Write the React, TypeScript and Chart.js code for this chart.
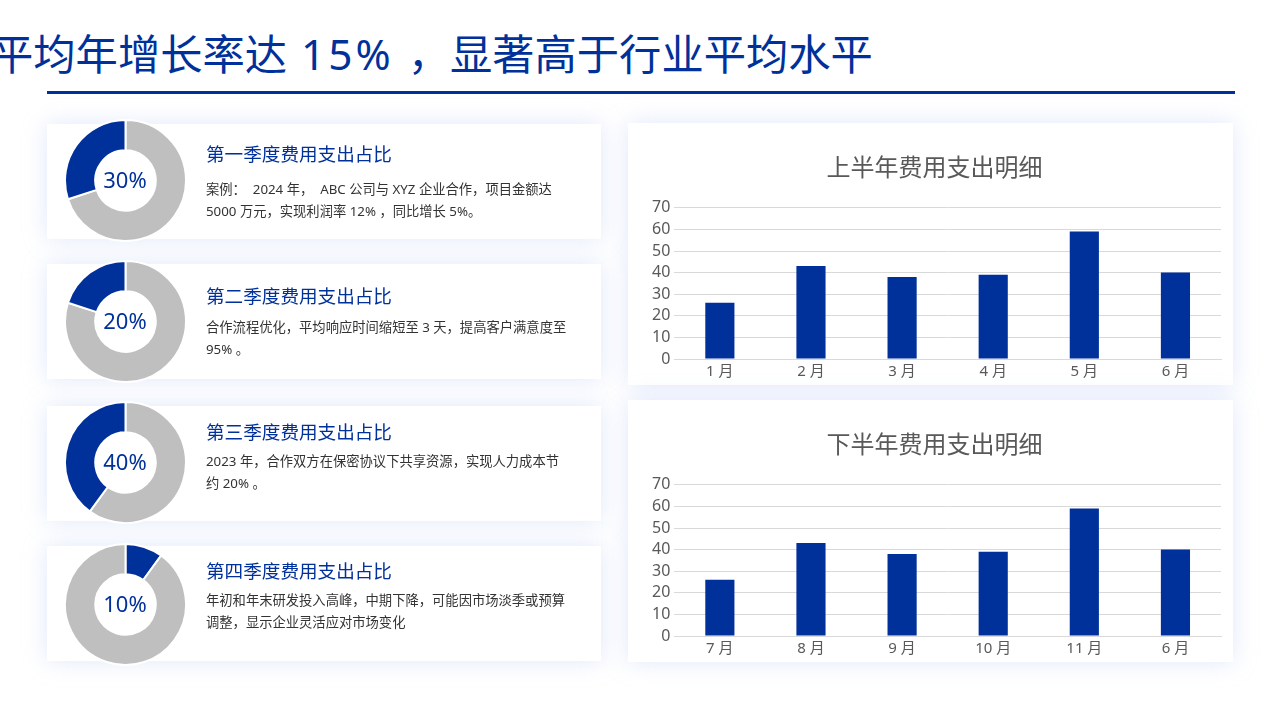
import React, { useEffect, useRef } from 'react';
import { Chart, registerables } from 'chart.js';

Chart.register(...registerables);

const FONT = '"Noto Sans", "Noto Sans CJK SC", sans-serif';
const BLUE = '#00319b';
const GREY = '#bfbfbf';
const AXIS_TEXT = '#595959';

// quarter share cards
const quarterTitles = ['第一季度费用支出占比', '第二季度费用支出占比', '第三季度费用支出占比', '第四季度费用支出占比'];
const quarterShares = [30, 20, 40, 10];
const quarterBlueFirst = [false, false, false, true];
const quarterLines = [
  ['案例：  2024 年，  ABC 公司与 XYZ 企业合作，项目金额达', '5000 万元，实现利润率 12% ，同比增长 5%。'],
  ['合作流程优化，平均响应时间缩短至 3 天，提高客户满意度至', '95% 。'],
  ['2023 年，合作双方在保密协议下共享资源，实现人力成本节', '约 20% 。'],
  ['年初和年末研发投入高峰，中期下降，可能因市场淡季或预算', '调整，显示企业灵活应对市场变化'],
];

// bar charts
const firstHalfTitle = '上半年费用支出明细';
const firstHalfMonths = ['1 月', '2 月', '3 月', '4 月', '5 月', '6 月'];
const firstHalfValues = [26, 43, 38, 39, 59, 40];
const secondHalfTitle = '下半年费用支出明细';
const secondHalfMonths = ['7 月', '8 月', '9 月', '10 月', '11 月', '6 月'];
const secondHalfValues = [26, 43, 38, 39, 59, 40];
const yTicks = [0, 10, 20, 30, 40, 50, 60, 70];

// layout (page px)
const cardTops = [124, 264, 406, 546];
const donutCenters = [180, 321, 462, 604];
const headingCenters = [155, 297, 433, 572];
const bodyCenters = [189, 327, 461, 600];

const shadow = '0 0 22px rgba(170, 188, 240, 0.35)';

const Donut: React.FC<{ share: number; blueFirst: boolean; cy: number }> = ({ share, blueFirst, cy }) => {
  const ref = useRef<HTMLCanvasElement>(null);
  useEffect(() => {
    if (!ref.current) return;
    const data = blueFirst ? [share, 100 - share] : [100 - share, share];
    const colors = blueFirst ? [BLUE, GREY] : [GREY, BLUE];
    const chart = new Chart(ref.current, {
      type: 'doughnut',
      data: { labels: ['a', 'b'], datasets: [{ data, backgroundColor: colors, borderColor: '#ffffff', borderWidth: 2 }] },
      options: {
        animation: false,
        responsive: true,
        maintainAspectRatio: false,
        cutout: '50%',
        plugins: { legend: { display: false }, tooltip: { enabled: false } },
      },
    });
    return () => chart.destroy();
  }, [share, blueFirst]);
  const size = 123;
  return (
    <>
      <div style={{ position: 'absolute', left: 125 - size / 2, top: cy - size / 2, width: size, height: size }}>
        <canvas ref={ref}></canvas>
      </div>
      <div style={{ position: 'absolute', left: 85, top: cy - 16, width: 80, height: 30, lineHeight: '30px', textAlign: 'center', fontSize: 22, color: BLUE, fontFamily: FONT }}>
        {share}%
      </div>
    </>
  );
};

const BarCard: React.FC<{ title: string; labels: string[]; values: number[]; top: number }> = ({ title, labels, values, top }) => {
  const ref = useRef<HTMLCanvasElement>(null);
  useEffect(() => {
    if (!ref.current) return;
    const chart = new Chart(ref.current, {
      type: 'bar',
      data: {
        labels,
        datasets: [{ data: values, backgroundColor: BLUE, barPercentage: 0.32, categoryPercentage: 1 }],
      },
      options: {
        animation: false,
        responsive: true,
        maintainAspectRatio: false,
        layout: { padding: { left: 20, right: 12, top: 0, bottom: 0 } },
        plugins: {
          legend: { display: false },
          tooltip: { enabled: false },
          title: {
            display: true,
            text: title,
            color: AXIS_TEXT,
            font: { family: FONT, size: 24, weight: 'normal' },
            padding: { top: 32, bottom: 24 },
          },
        },
        scales: {
          x: {
            grid: { display: false, drawTicks: false },
            border: { color: '#d9d9d9' },
            ticks: { color: AXIS_TEXT, font: { family: FONT, size: 15 }, padding: 4 },
          },
          y: {
            min: yTicks[0],
            max: yTicks[yTicks.length - 1],
            afterBuildTicks: (axis: any) => {
              axis.ticks = yTicks.map((v) => ({ value: v }));
            },
            grid: { color: '#d9d9d9', drawTicks: false },
            border: { display: false },
            ticks: { color: AXIS_TEXT, font: { family: FONT, size: 16 }, padding: 4, autoSkip: false },
          },
        },
      },
    });
    return () => chart.destroy();
  }, [title, labels, values]);
  return (
    <div style={{ position: 'absolute', left: 628, top, width: 605, height: 262, background: '#fff', boxShadow: shadow }}>
      <canvas ref={ref}></canvas>
    </div>
  );
};

export default function App() {
  useEffect(() => {
    document.body.style.margin = '0';
  }, []);
  return (
    <div style={{ position: 'relative', width: 1280, height: 719, overflow: 'hidden', background: '#ffffff', fontFamily: FONT }}>
      <div style={{ position: 'absolute', left: -9, top: 26, fontSize: 42.3, lineHeight: '56px', color: BLUE, whiteSpace: 'nowrap' }}>
        平均年增长率达<span style={{ letterSpacing: 3 }}> 15% </span>，显著高于行业平均水平
      </div>
      <div style={{ position: 'absolute', left: 47, top: 91, width: 1188, height: 3, background: BLUE }}></div>

      {quarterTitles.map((t, i) => (
        <React.Fragment key={t}>
          <div style={{ position: 'absolute', left: 47, top: cardTops[i], width: 554, height: 115, background: '#fff', boxShadow: shadow }}></div>
          <Donut share={quarterShares[i]} blueFirst={quarterBlueFirst[i]} cy={donutCenters[i]} />
          <div style={{ position: 'absolute', left: 206, top: headingCenters[i] - 13, fontSize: 18.6, lineHeight: '24px', color: BLUE, whiteSpace: 'nowrap' }}>{t}</div>
          {quarterLines[i].map((line, j) => (
            <div key={j} style={{ position: 'absolute', left: 206, top: bodyCenters[i] - 11 + j * 22, fontSize: 13.3, lineHeight: '22px', color: '#333333', whiteSpace: 'pre' }}>{line}</div>
          ))}
        </React.Fragment>
      ))}

      <BarCard title={firstHalfTitle} labels={firstHalfMonths} values={firstHalfValues} top={123} />
      <BarCard title={secondHalfTitle} labels={secondHalfMonths} values={secondHalfValues} top={400} />
    </div>
  );
}
